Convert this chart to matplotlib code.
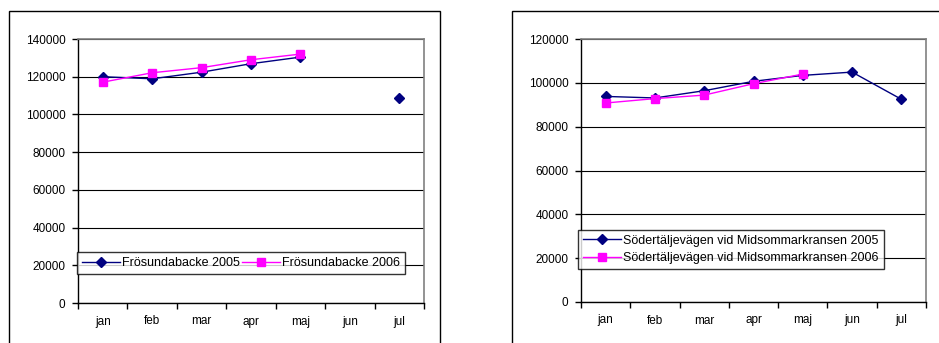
import numpy as np
import matplotlib.pyplot as plt
from matplotlib.patches import Rectangle

plt.rcParams['font.family'] = ['Liberation Sans', 'DejaVu Sans']

months = ['jan', 'feb', 'mar', 'apr', 'maj', 'jun', 'jul']

fros_2005 = [120000, 118900, 122400, 126900, 130400, np.nan, 108800]
fros_2006 = [117100, 122100, 124800, 129000, 132000, np.nan, np.nan]

sod_2005 = [93800, 93100, 96400, 100700, 103400, 104900, 92500]
sod_2006 = [90800, 92800, 94400, 99600, 104000, np.nan, np.nan]

W, H = 939, 343
fig = plt.figure(figsize=(W / 100, H / 100), dpi=100)


def px_axes(x0, y0, x1, y1):
    # pixel box (top-left origin) -> figure axes
    return fig.add_axes([x0 / W, 1 - y1 / H, (x1 - x0) / W, (y1 - y0) / H])


def draw_chart(ax, s05, s06, lab05, lab06, ymax, leg_box, ncol):
    x = np.arange(len(months)) + 0.5
    ax.plot(x, s05, color='#000080', marker='D', markersize=5, lw=1, label=lab05)
    ax.plot(x, s06, color='#FF00FF', marker='s', markersize=6, lw=1, label=lab06)
    ax.set_xlim(0, len(months))
    ax.set_ylim(0, ymax)
    ax.set_yticks(np.arange(0, ymax + 1, 20000))
    ax.set_xticks(np.arange(0, len(months) + 1))
    ax.set_xticklabels([])
    ax.set_xticks(x, minor=True)
    ax.set_xticklabels(months, minor=True)
    ax.tick_params(axis='x', which='minor', length=0, pad=9, labelsize=8.5)
    ax.tick_params(axis='x', which='major', length=4, direction='out', width=1)
    ax.tick_params(axis='y', length=4, direction='out', width=1, labelsize=8.5, pad=5)
    ax.grid(axis='y', color='black', lw=0.8)
    ax.set_axisbelow(True)
    for side in ['top', 'right']:
        ax.spines[side].set_color('#808080')
        ax.spines[side].set_linewidth(1.2)
    for side in ['left', 'bottom']:
        ax.spines[side].set_color('black')
        ax.spines[side].set_linewidth(1)
    x0, y0, x1, y1 = leg_box
    leg = ax.legend(loc='center left', bbox_to_anchor=(x0 / W, 1 - y1 / H, (x1 - x0) / W, (y1 - y0) / H),
                    bbox_transform=fig.transFigure, ncol=ncol, fontsize=9, frameon=True,
                    fancybox=False, edgecolor='black', borderpad=0.4, handlelength=3.0,
                    handletextpad=0.2, columnspacing=0.2, labelspacing=0.45,
                    borderaxespad=0)
    leg.get_frame().set_linewidth(1)


ax1 = px_axes(78, 39, 424, 303)
draw_chart(ax1, fros_2005, fros_2006, 'Frösundabacke 2005', 'Frösundabacke 2006',
           140000, (77, 250, 394, 276), 2)

ax2 = px_axes(581, 39, 926, 302)
draw_chart(ax2, sod_2005, sod_2006, 'Södertäljevägen vid Midsommarkransen 2005',
           'Södertäljevägen vid Midsommarkransen 2006', 120000, (578, 228, 898, 271), 1)

# outer chart frames
for (fx0, fy0, fx1, fy1) in [(9, 11, 440, 350), (512, 11, 945, 350)]:
    fig.patches.append(Rectangle((fx0 / W, 1 - fy1 / H), (fx1 - fx0) / W, (fy1 - fy0) / H,
                                 transform=fig.transFigure, fill=False, edgecolor='black',
                                 lw=1, figure=fig))

fig.savefig('out.png', dpi=100)
